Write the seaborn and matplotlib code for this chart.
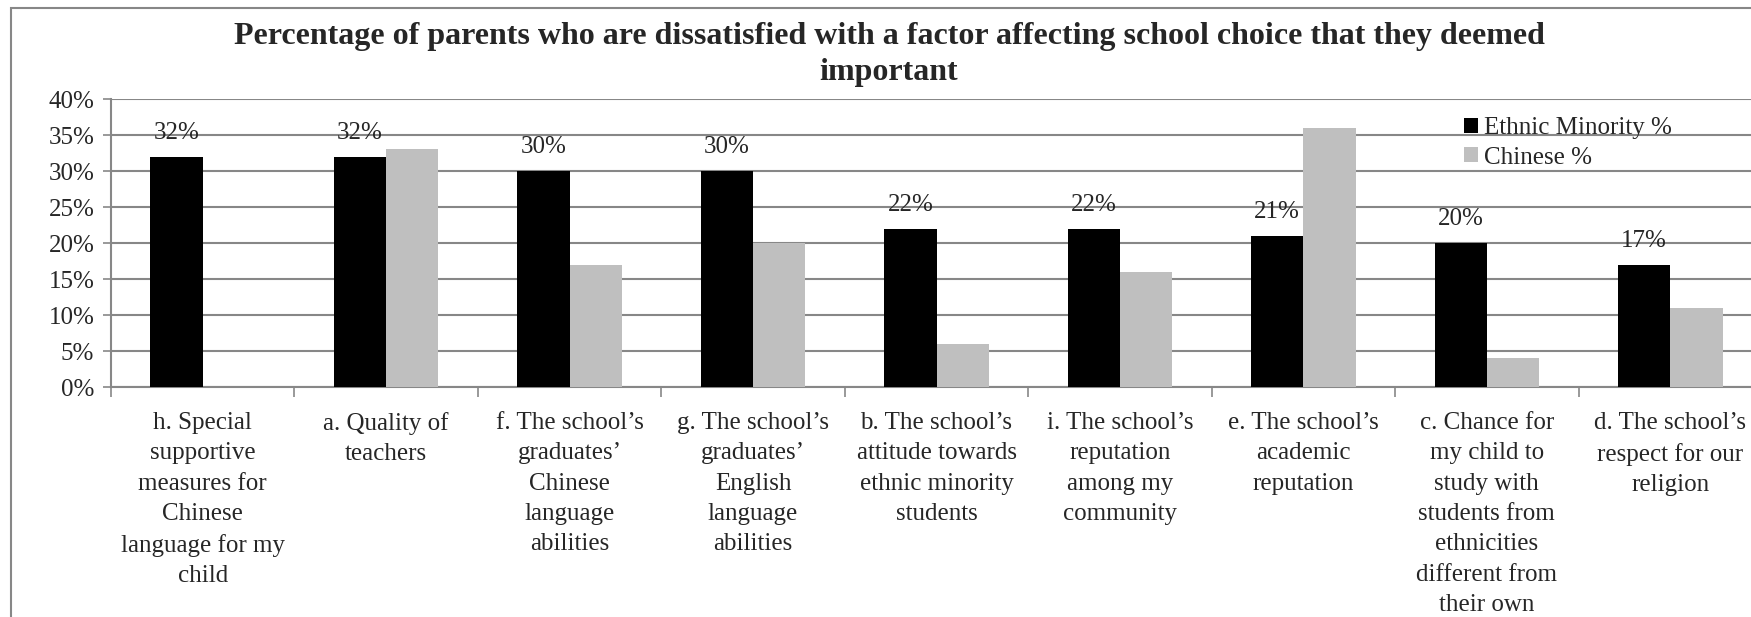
import matplotlib
matplotlib.use('Agg')
import matplotlib.pyplot as plt
from matplotlib.patches import Rectangle
import numpy as np
import pandas as pd
import seaborn as sns

# Dados
categorias = [
    "h. Special\nsupportive\nmeasures for\nChinese\nlanguage for my\nchild",
    "a. Quality of\nteachers",
    "f. The school’s\ngraduates’\nChinese\nlanguage\nabilities",
    "g. The school’s\ngraduates’\nEnglish\nlanguage\nabilities",
    "b. The school’s\nattitude towards\nethnic minority\nstudents",
    "i. The school’s\nreputation\namong my\ncommunity",
    "e. The school’s\nacademic\nreputation",
    "c. Chance for\nmy child to\nstudy with\nstudents from\nethnicities\ndifferent from\ntheir own",
    "d. The school’s\nrespect for our\nreligion",
]
ethnic_minority = [32, 32, 30, 30, 22, 22, 21, 20, 17]
chinese = [0, 33, 17, 20, 6, 16, 36, 4, 11]
series = ['Ethnic Minority %', 'Chinese %']
y_ticks = [0, 5, 10, 15, 20, 25, 30, 35, 40]

df = pd.DataFrame({
    'Categoria': categorias * 2,
    'Serie': [series[0]] * len(categorias) + [series[1]] * len(categorias),
    'Valor': ethnic_minority + chinese,
})

sns.set_style('white')
plt.rcParams['font.family'] = ['Liberation Serif', 'DejaVu Serif']
grid_color = '#878787'

fig = plt.figure(figsize=(17.51, 6.17), dpi=100)
ax = fig.add_axes([111 / 1751, 1 - 387 / 617, 1651 / 1751, 288 / 617])

sns.barplot(data=df, x='Categoria', y='Valor', hue='Serie', order=categorias,
            hue_order=series, palette=['#000000', '#BFBFBF'], width=0.57,
            saturation=1, ax=ax, zorder=3, linewidth=0)

ax.set_xlim(-0.5, len(categorias) - 0.5)
ax.set_ylim(0, 40)
ax.set_yticks(y_ticks)
ax.set_yticklabels([f'{v}%' for v in y_ticks], fontsize=18)
ax.yaxis.grid(True, color=grid_color, linewidth=1.5, zorder=0)
ax.set_axisbelow(True)
ax.tick_params(axis='y', length=6, color=grid_color, width=1.2, left=True, pad=6)

ax.set_xticks(range(len(categorias)))
ax.set_xticklabels(categorias, fontsize=18, linespacing=1.49)
ax.tick_params(axis='x', which='major', length=0, pad=18)
ax.set_xticks(np.arange(-0.5, len(categorias), 1), minor=True)
ax.tick_params(axis='x', which='minor', length=7, color=grid_color, width=1.2, bottom=True)

for s in ['top', 'right']:
    ax.spines[s].set_visible(False)
for s in ['left', 'bottom']:
    ax.spines[s].set_color(grid_color)
    ax.spines[s].set_linewidth(1.5)

ax.set_xlabel('')
ax.set_ylabel('')

# Rótulos apenas para a série Ethnic Minority
for container in ax.containers[:1]:
    for bar, v in zip(container, ethnic_minority):
        ax.annotate(f'{v}%', (bar.get_x() + bar.get_width() / 2, bar.get_height()),
                    xytext=(0, 17), textcoords='offset points',
                    ha='center', va='center', fontsize=18)

leg = ax.legend(loc='upper left', bbox_to_anchor=(1464 / 1751, 1 - 117 / 617),
                bbox_transform=fig.transFigure, frameon=False, fontsize=18,
                handlelength=0.55, handleheight=0.55, handletextpad=0.25,
                labelspacing=0.3, borderaxespad=0, borderpad=0)

fig.text(889 / 1751, 1 - 22 / 617,
         'Percentage of parents who are dissatisfied with a factor affecting school choice that they deemed\nimportant',
         ha='center', va='top', fontsize=23, fontweight='bold', linespacing=1.3)

fig.patches.append(Rectangle((11 / 1751, -0.1), 1.2, 1.1 - 8 / 617, transform=fig.transFigure,
                             fill=False, edgecolor=grid_color, linewidth=1.5))

plt.savefig('out.png', dpi=100)
